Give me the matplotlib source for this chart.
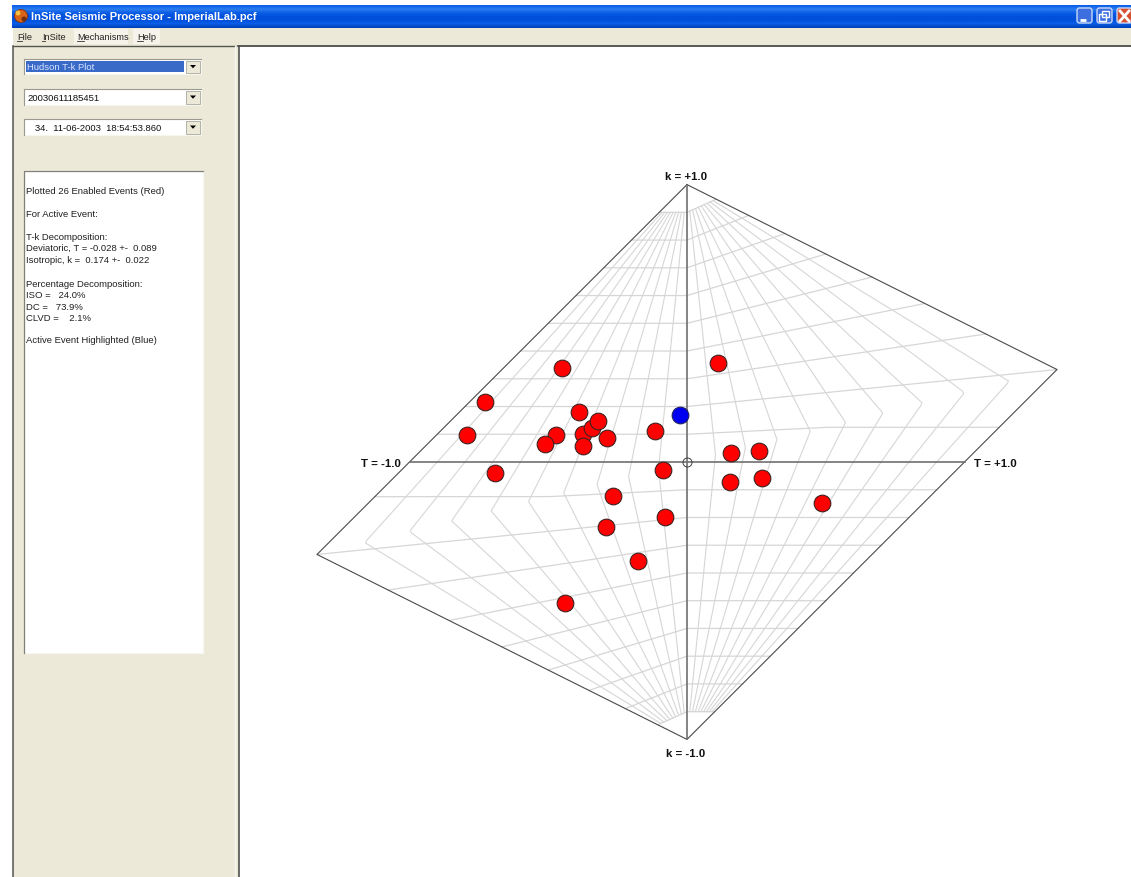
import numpy as np
import matplotlib
matplotlib.use("Agg")
import matplotlib.pyplot as plt
from matplotlib.patches import Rectangle, FancyBboxPatch, Circle, Polygon
from matplotlib.colors import LinearSegmentedColormap

W, H = 1131, 878

# ---- data (Hudson u, v coordinates) ----
event_u = [0.112, -0.449, -0.727, -0.389, -0.376, -0.342, -0.322, -0.114, -0.288, -0.794,
           -0.471, -0.512, -0.376, -0.088, -0.693, 0.159, 0.259, 0.155, 0.270, 0.486,
           -0.267, -0.079, -0.292, -0.177, -0.440]
event_v = [0.358, 0.339, 0.217, 0.179, 0.100, 0.123, 0.149, 0.113, 0.087, 0.097,
           0.096, 0.065, 0.058, -0.029, -0.039, 0.034, 0.039, -0.072, -0.058, -0.148,
           -0.123, -0.198, -0.234, -0.357, -0.508]
active_u = [-0.025]
active_v = [0.171]

grid_T = [-0.9, -0.8, -0.7, -0.6, -0.5, -0.4, -0.3, -0.2, -0.1, 0.1, 0.2, 0.3, 0.4, 0.5, 0.6, 0.7, 0.8, 0.9]
grid_k = [-0.9, -0.8, -0.7, -0.6, -0.5, -0.4, -0.3, -0.2, -0.1, 0.1, 0.2, 0.3, 0.4, 0.5, 0.6, 0.7, 0.8, 0.9]

menu_items = ["File", "InSite", "Mechanisms", "Help"]
combo_items = ["Hudson T-k Plot", "20030611185451", "   34.  11-06-2003  18:54:53.860"]
info_lines = ["Plotted 26 Enabled Events (Red)", "For Active Event:", "T-k Decomposition:",
              "Deviatoric, T = -0.028 +-  0.089", "Isotropic, k =  0.174 +-  0.022",
              "Percentage Decomposition:", "ISO =   24.0%", "DC =   73.9%", "CLVD =    2.1%",
              "Active Event Highlighted (Blue)"]
window_title = "InSite Seismic Processor - ImperialLab.pcf"

# ---- layout (pixels) ----
info_y = [191.5, 214.5, 237.5, 248.5, 260.5, 284.5, 295.5, 307.5, 318.5, 340.5]
menu_x = [17, 42, 77, 137]
combo_y = [(60, 75), (90, 106), (120, 136)]
CX, CY, SX, SY = 687, 463, 277.5, 277.4
UI = "Liberation Sans"
BEIGE = "#ECE9D8"


def hudson(T, k):
    """Project source-type (T, k) to the skewed Hudson u, v plane."""
    T, k = np.asarray(T, float), np.asarray(k, float)
    iso = k / (1 - np.abs(k))
    m2 = T / 2
    m1 = np.where(T >= 0, 1 - T / 2, 1.0)
    m3 = np.where(T >= 0, -1.0, -1 - T / 2)
    lam = np.stack([iso + m1, iso + m2, iso + m3])
    lam = lam / np.abs(lam).max(axis=0)
    return -2 / 3 * (lam[0] + lam[2] - 2 * lam[1]), lam.sum(axis=0) / 3


fig = plt.figure(figsize=(W / 100, H / 100), dpi=100, facecolor="white")

# ---------- window chrome ----------
ch = fig.add_axes([0, 0, 1, 1])
ch.set_axis_off()
ch.add_patch(Rectangle((13, 28), W, H, fc=BEIGE, ec="none"))
ch.add_patch(Rectangle((239, 48), W, H, fc="white", ec="none", zorder=1))
cm = LinearSegmentedColormap.from_list("t", ["#0A5FE8", "#2C7CF0", "#0A5CE6", "#0050DC", "#0050DC", "#0A5EE8", "#0040B8"])
ch.imshow(np.linspace(0, 1, 24)[:, None], extent=(12, W, 29, 6), cmap=cm, aspect="auto", zorder=2)
ch.plot([13, 13], [47, H], color="#55554f", lw=1.1, zorder=3)
ch.plot([13, 235], [47, 47], color="#55554f", lw=1.0, zorder=3)
ch.plot([235, 235], [47, H], color="#F8F7F0", lw=0.9, zorder=3)
ch.plot([238, W], [47, 47], color="#404040", lw=1.2, zorder=3)
ch.plot([238.5, 238.5], [47, H], color="#505050", lw=1.2, zorder=3)

# title and icon
ch.add_patch(Circle((21, 17), 6.5, fc="#D8641A", ec="#7A3010", lw=0.6, zorder=4))
ch.add_patch(Circle((18, 14), 2.5, fc="#F4C040", ec="none", zorder=5))
ch.add_patch(Circle((24, 20), 2.5, fc="#703010", ec="none", zorder=5))
ch.text(31, 17.5, window_title, color="white", fontsize=8.05, fontweight="bold", family=UI, va="center", zorder=5)

# window buttons
for x0, fc in [(1076, "#3C6EE0"), (1096, "#3C6EE0"), (1116, "#D85030")]:
    ch.add_patch(FancyBboxPatch((x0 + 1, 9), 15, 15, boxstyle="round,pad=0,rounding_size=2.5",
                                fc=fc, ec="#C8D8F8", lw=1.0, zorder=4))
ch.plot([1080, 1086], [21, 21], color="white", lw=2.0, zorder=5, solid_capstyle="butt")
ch.add_patch(Rectangle((1099, 15), 7, 7, fc="none", ec="white", lw=1, zorder=5))
ch.add_patch(Rectangle((1102, 12), 7, 6, fc="none", ec="white", lw=1, zorder=5))
ch.plot([1120, 1129], [12, 22], color="white", lw=2.0, zorder=5)
ch.plot([1129, 1120], [12, 22], color="white", lw=2.0, zorder=5)

# menu
ch.add_patch(Rectangle((74, 30), 54, 15, fc="#F6F4EA", ec="none", zorder=2))
ch.add_patch(Rectangle((133, 30), 27, 15, fc="#F6F4EA", ec="none", zorder=2))
for x, s in zip(menu_x, menu_items):
    ch.text(x, 37.5, s, fontsize=6.6, family=UI, color="#202020", va="center", zorder=5)
for x0, x1 in [(17, 22), (42, 45), (77, 84), (137, 143)]:
    ch.plot([x0, x1], [42, 42], color="#303030", lw=0.6, zorder=5)

# combos
for i, ((y0, y1), s) in enumerate(zip(combo_y, combo_items)):
    ch.add_patch(Rectangle((24, y0), 177, y1 - y0, fc="white", ec="#F6F5EE", lw=0.8, zorder=3))
    ch.plot([24, 201], [y0, y0], color="#9A9A90", lw=0.8, zorder=4)
    ch.plot([24, 24], [y0, y1], color="#9A9A90", lw=0.8, zorder=4)
    if i == 0:
        ch.add_patch(Rectangle((26, y0 + 2), 158, y1 - y0 - 4, fc="#3A6AC8", ec="none", zorder=4))
    ch.add_patch(Rectangle((186, y0 + 2), 14, y1 - y0 - 3, fc=BEIGE, ec="#A8A89C", lw=0.6, zorder=4))
    ym = (y0 + y1) / 2
    ch.add_patch(Polygon([[190, ym - 1.5], [196, ym - 1.5], [193, ym + 1.8]], fc="black", ec="none", zorder=5))
    ch.text(27, ym + 0.3, s, fontsize=6.8, family=UI, va="center",
            color="#D8E4FF" if i == 0 else "#101010", zorder=5)

# info box
ch.add_patch(Rectangle((24, 172), 179, 482, fc="white", ec="#F8F8F2", lw=1, zorder=3))
ch.plot([24, 24, 203], [654, 172, 172], color="#808078", lw=0.9, zorder=4)
for y, s in zip(info_y, info_lines):
    ch.text(26, y, s, fontsize=6.8, family=UI, color="#202020", va="center", zorder=5)

ch.set_xlim(0, W)
ch.set_ylim(H, 0)

# ---------- Hudson plot ----------
ax = fig.add_axes([239 / W, 0, (W - 239) / W, (H - 48) / H])
ax.patch.set_alpha(0)
ax.set_axis_off()
ax.set_xlim((239 - CX) / SX, (W - CX) / SX)
ax.set_ylim((CY - H) / SY, (CY - 48) / SY)

GRID = "#D6D6D6"
for T0 in grid_T:
    ks = np.linspace(-0.9, 0.9, 361)
    u, v = hudson(np.full_like(ks, T0), ks)
    ax.plot(u, v, color=GRID, lw=0.8, zorder=1)
for k0 in grid_k:
    Ts = np.linspace(-1, 1, 201)
    u, v = hudson(Ts, np.full_like(Ts, k0))
    ax.plot(u, v, color=GRID, lw=0.9, zorder=1)

outline_u = [0, 4 / 3, 0, -4 / 3, 0]
outline_v = [1, 1 / 3, -1, -1 / 3, 1]
ax.plot(outline_u, outline_v, color="#4A4A4A", lw=0.8, zorder=2)
ax.plot([-1, 1], [0, 0], color="#707070", lw=1.2, zorder=2)
ax.plot([0, 0], [-1, 1], color="#707070", lw=1.2, zorder=2)
ax.plot([0], [0], "o", ms=6.5, mfc="none", mec="#404040", mew=0.7, zorder=3)

ax.plot(event_u, event_v, "o", ms=12, mfc="#FF0000", mec="#402020", mew=0.8, ls="none", zorder=4)
ax.plot(active_u, active_v, "o", ms=12, mfc="#0000F0", mec="#202060", mew=0.8, ls="none", zorder=5)

lab = dict(fontsize=8.2, fontweight="bold", family=UI, color="#101010", textcoords="offset points")
ax.annotate("k = +1.0", (0, 1), xytext=(-0.5, 6.5), ha="center", va="center", **lab)
ax.annotate("k = -1.0", (0, -1), xytext=(-1, -10), ha="center", va="center", **lab)
ax.annotate("T = -1.0", (-1, 0), xytext=(-6.5, -0.7), ha="right", va="center", **lab)
ax.annotate("T = +1.0", (1, 0), xytext=(6.5, -1), ha="left", va="center", **lab)

fig.savefig("out.png", dpi=100, facecolor="white")
